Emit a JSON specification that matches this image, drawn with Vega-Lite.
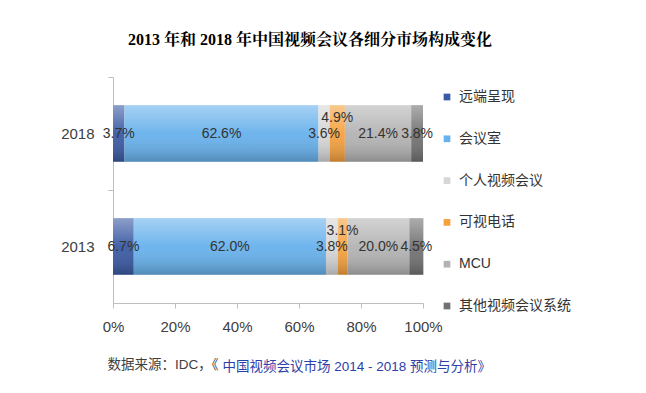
{
  "$schema": "https://vega.github.io/schema/vega-lite/v6.json",
  "autosize": {"type": "none"},
  "padding": {"left": 113, "top": 77, "right": 223, "bottom": 90},
  "width": 310,
  "height": 226,
  "background": "#ffffff",
  "config": {
    "view": {"stroke": null},
    "font": "Liberation Sans, Noto Sans CJK SC, sans-serif"
  },
  "title": {
    "text": "2013 年和 2018 年中国视频会议各细分市场构成变化",
    "font": "Liberation Serif, Noto Serif CJK SC, Noto Sans CJK SC, serif",
    "fontSize": 16,
    "fontWeight": "bold",
    "color": "#000000",
    "anchor": "middle",
    "frame": "group",
    "dx": 42,
    "offset": 29
  },
  "data": {
    "values": [
      {"year": "2018", "cat": "远端呈现", "idx": 1, "value": 0.037},
      {"year": "2018", "cat": "会议室", "idx": 2, "value": 0.626},
      {"year": "2018", "cat": "个人视频会议", "idx": 3, "value": 0.036},
      {"year": "2018", "cat": "可视电话", "idx": 4, "value": 0.049},
      {"year": "2018", "cat": "MCU", "idx": 5, "value": 0.214},
      {"year": "2018", "cat": "其他视频会议系统", "idx": 6, "value": 0.038},
      {"year": "2013", "cat": "远端呈现", "idx": 1, "value": 0.067},
      {"year": "2013", "cat": "会议室", "idx": 2, "value": 0.620},
      {"year": "2013", "cat": "个人视频会议", "idx": 3, "value": 0.038},
      {"year": "2013", "cat": "可视电话", "idx": 4, "value": 0.031},
      {"year": "2013", "cat": "MCU", "idx": 5, "value": 0.200},
      {"year": "2013", "cat": "其他视频会议系统", "idx": 6, "value": 0.045}
    ]
  },
  "transform": [
    {"stack": "value", "groupby": ["year"], "sort": [{"field": "idx", "order": "ascending"}], "as": ["v0", "v1"]},
    {"calculate": "(datum.v0 + datum.v1) / 2", "as": "mid"}
  ],
  "encoding": {
    "y": {
      "field": "year",
      "type": "nominal",
      "sort": ["2018", "2013"],
      "scale": {"paddingInner": 0.5, "paddingOuter": 0.25},
      "axis": {
        "title": "中国视频会议市场 2014 - 2018 预测与分析》",
        "titleAngle": 0,
        "titleAlign": "left",
        "titleBaseline": "middle",
        "titleX": 109,
        "titleY": 289,
        "titleFontSize": 13.5,
        "titleFontWeight": "normal",
        "titleColor": "#2b40a8",
        "titleFont": "Liberation Sans, Noto Sans CJK SC, sans-serif",
        "labelFontSize": 15,
        "labelColor": "#404040",
        "labelPadding": 14,
        "tickOffset": -56.5,
        "labelOffset": 56.5,
        "tickSize": 5,
        "tickColor": "#bfbfbf",
        "domainColor": "#bfbfbf",
        "grid": false
      }
    }
  },
  "layer": [
    {
      "mark": {"type": "bar"},
      "encoding": {
        "x": {
          "field": "v0",
          "type": "quantitative",
          "scale": {"domain": [0, 1], "nice": false},
          "axis": {
            "format": ".0%",
            "values": [0, 0.2, 0.4, 0.6, 0.8, 1],
            "grid": false,
            "labelFontSize": 15,
            "labelColor": "#404040",
            "labelPadding": 11,
            "tickSize": 5,
            "tickColor": "#bfbfbf",
            "domainColor": "#bfbfbf",
            "labelFlush": false,
            "title": "数据来源：IDC，《",
            "titleAnchor": "start",
            "titleAlign": "left",
            "titleBaseline": "middle",
            "titleX": -6,
            "titleY": 61,
            "titleFontSize": 13.5,
            "titleFontWeight": "normal",
            "titleColor": "#404040"
          }
        },
        "x2": {"field": "v1"},
        "color": {
          "field": "cat",
          "type": "nominal",
          "scale": {
            "domain": ["远端呈现", "会议室", "个人视频会议", "可视电话", "MCU", "其他视频会议系统"],
            "range": ["#3a5aa3", "#67b1ec", "#d6d6d6", "#f5a13e", "#b3b3b3", "#727272"]
          },
          "legend": {
            "title": null,
            "orient": "none",
            "legendX": 327,
            "legendY": 13,
            "symbolType": "square",
            "symbolSize": 45,
            "symbolStrokeWidth": 0,
            "labelFontSize": 14,
            "labelColor": "#333333",
            "labelOffset": 5,
            "rowPadding": 27.8
          }
        }
      }
    },
    {
      "mark": {
        "type": "bar",
        "fill": {
          "gradient": "linear",
          "x1": 0, "y1": 0, "x2": 0, "y2": 1,
          "stops": [
            {"offset": 0, "color": "rgba(255,255,255,0.42)"},
            {"offset": 0.5, "color": "rgba(255,255,255,0.05)"},
            {"offset": 1, "color": "rgba(0,0,0,0.22)"}
          ]
        }
      },
      "encoding": {
        "x": {"field": "v0", "type": "quantitative"},
        "x2": {"field": "v1"}
      }
    },
    {
      "transform": [{"filter": "datum.cat !== '可视电话'"}],
      "mark": {"type": "text", "fontSize": 14, "color": "#333333"},
      "encoding": {
        "x": {"field": "mid", "type": "quantitative"},
        "text": {"field": "value", "type": "quantitative", "format": ".1%"}
      }
    },
    {
      "transform": [{"filter": "datum.cat === '可视电话'"}],
      "mark": {"type": "text", "fontSize": 14, "color": "#333333", "dy": -16},
      "encoding": {
        "x": {"field": "mid", "type": "quantitative"},
        "text": {"field": "value", "type": "quantitative", "format": ".1%"}
      }
    }
  ]
}
